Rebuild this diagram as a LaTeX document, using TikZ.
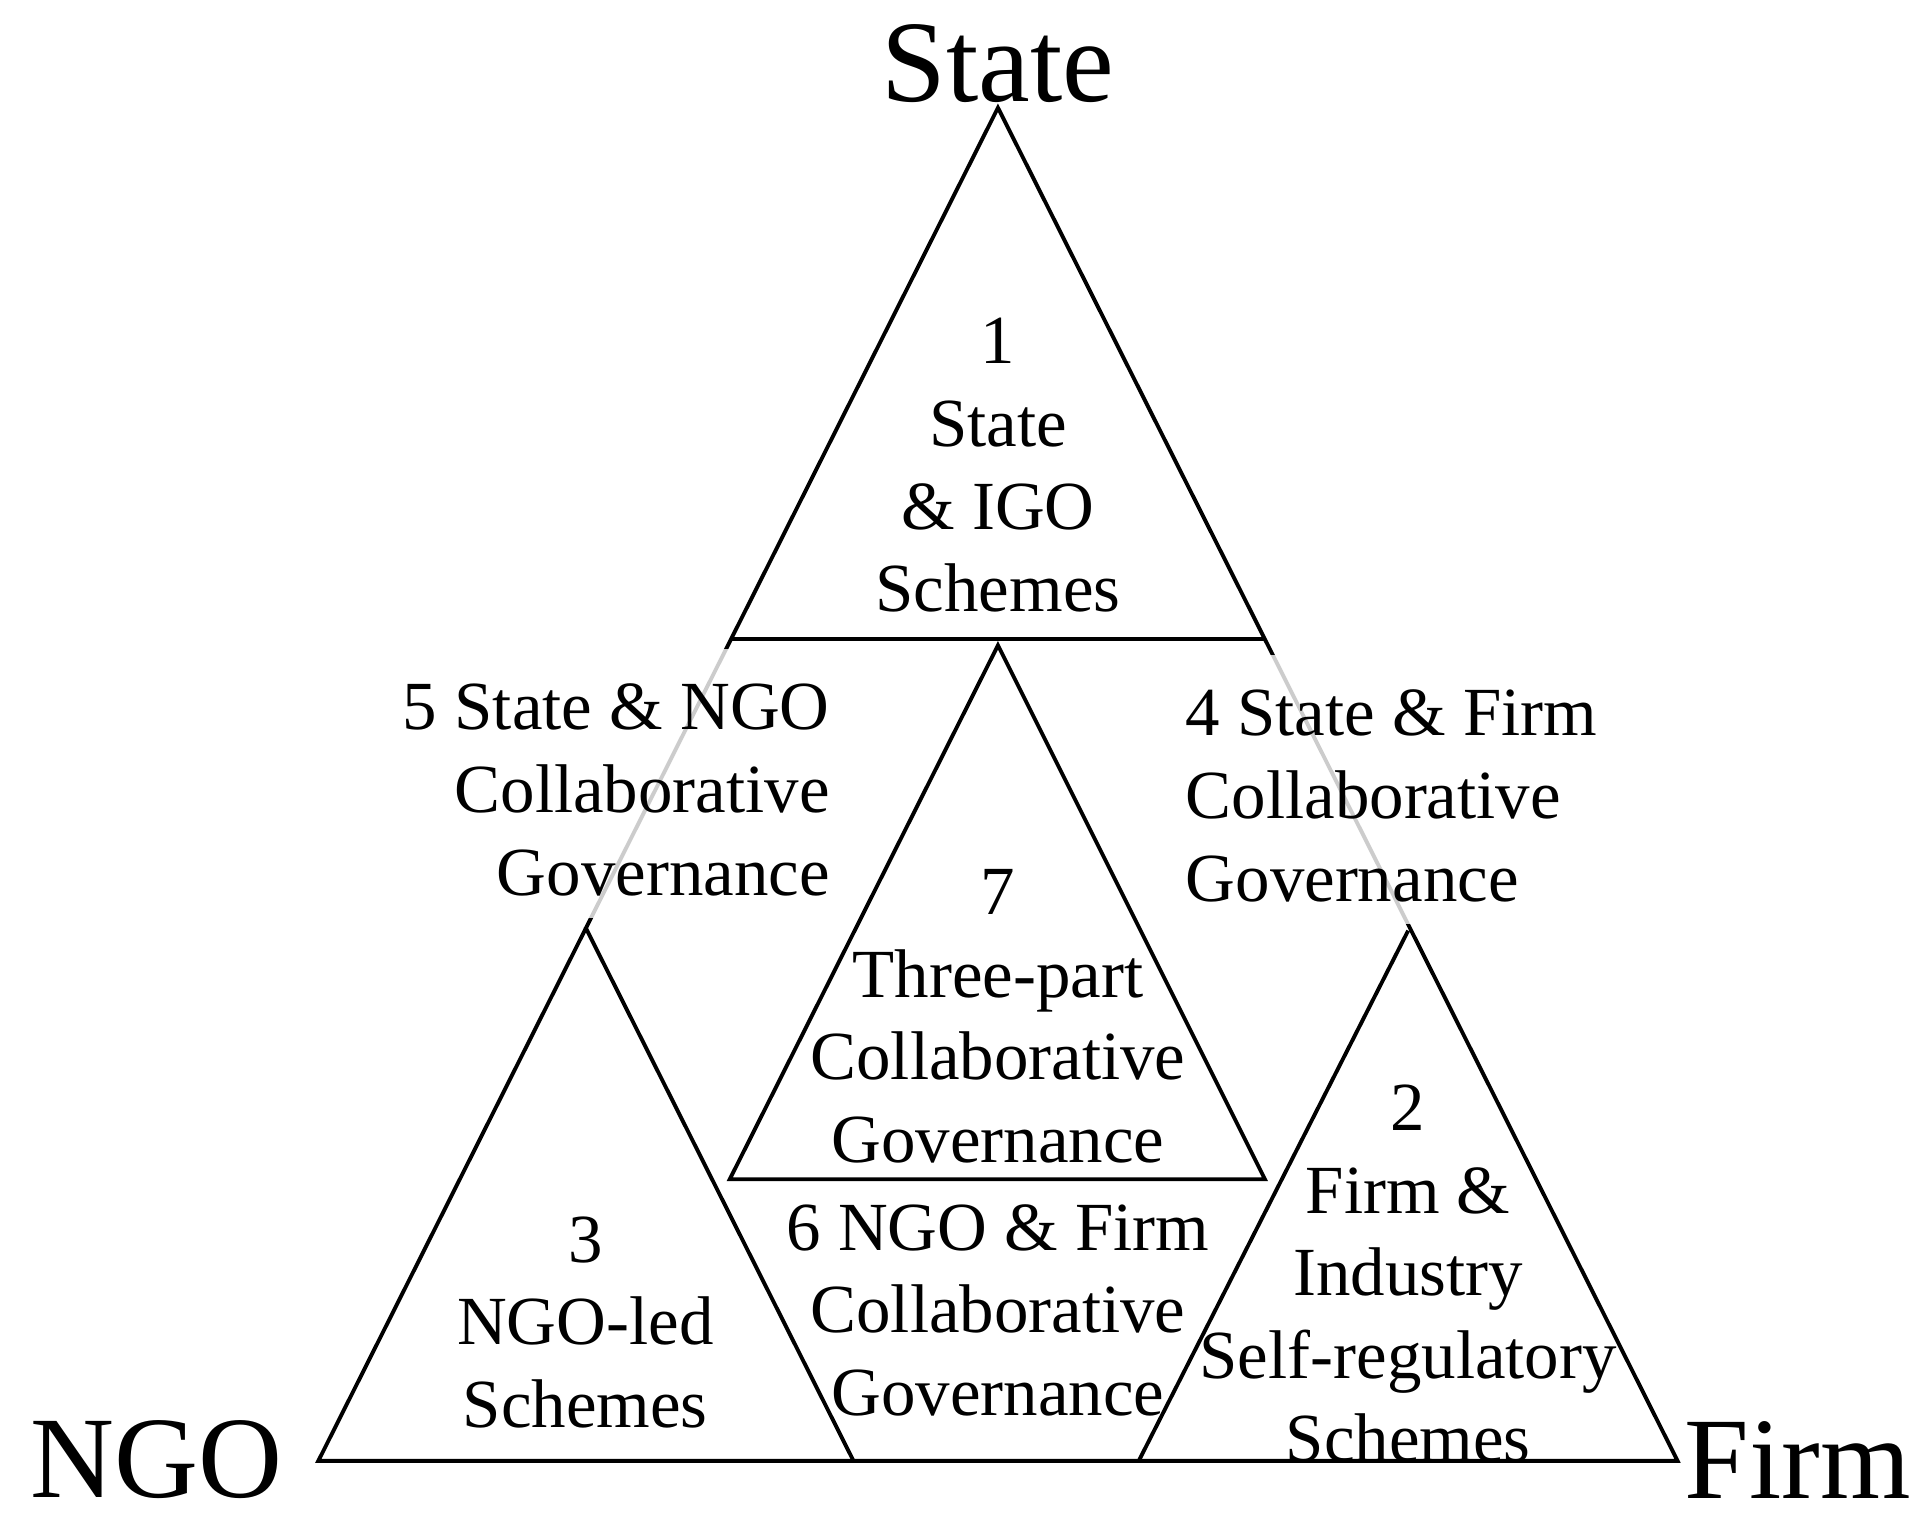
\documentclass[tikz,border=0pt]{standalone}
\usepackage{fontspec}
\setmainfont{Liberation Serif}
\tikzset{
  zone/.style={align=center, font=\fontsize{16}{19.2}\selectfont},
  corner/.style={font=\fontsize{27}{30}\selectfont},
  tri/.style={draw=black, line width=0.9pt, line join=miter}
}
\begin{document}
\begin{tikzpicture}[x=0.01cm, y=-0.01cm]
    \useasboundingbox (0,0) rectangle (1568,1248);
    % corners of the outer triangle
    \coordinate (top) at (815,88);
    \coordinate (bl) at (260,1193);
    \coordinate (br) at (1370,1193);
    \draw[tri] (top) -- (bl) -- (br) -- cycle;
    % inner triangles
    \draw[tri] (596,522) -- (1033,522);
    \draw[tri] (815,527) -- (596,963) -- (1033,963) -- cycle;
    \draw[tri] (478,757) -- (697,1193);
    \draw[tri] (1150,760) -- (930,1193);
    % faint boxes behind the side labels
    \fill[white, opacity=0.8] (300,530) rectangle (690,750);
    \fill[white, opacity=0.8] (950,535) rectangle (1350,755);
    \node[corner] (state) at (815,52) {State};
    \node[corner] (ngo) at (128,1192) {NGO};
    \node[corner] (firm) at (1468,1192) {Firm};
    \node[zone] (z1) at (815,380) {1\\State\\\&\ IGO\\Schemes};
    \node[zone, align=right, anchor=east] (z5) at (690,645) {5 State \&\ NGO\\Collaborative\\Governance};
    \node[zone, align=left, anchor=west] (z4) at (956,650) {4 State \&\ Firm\\Collaborative\\Governance};
    \node[zone] (z7) at (815,830) {7\\Three-part\\Collaborative\\Governance};
    \node[zone] (z3) at (478,1080) {3\\NGO-led\\Schemes};
    \node[zone] (z6) at (815,1070) {6 NGO \&\ Firm\\Collaborative\\Governance};
    \node[zone] (z2) at (1150,1040) {2\\Firm \&\\Industry\\Self-regulatory\\Schemes};
\end{tikzpicture}
\end{document}
